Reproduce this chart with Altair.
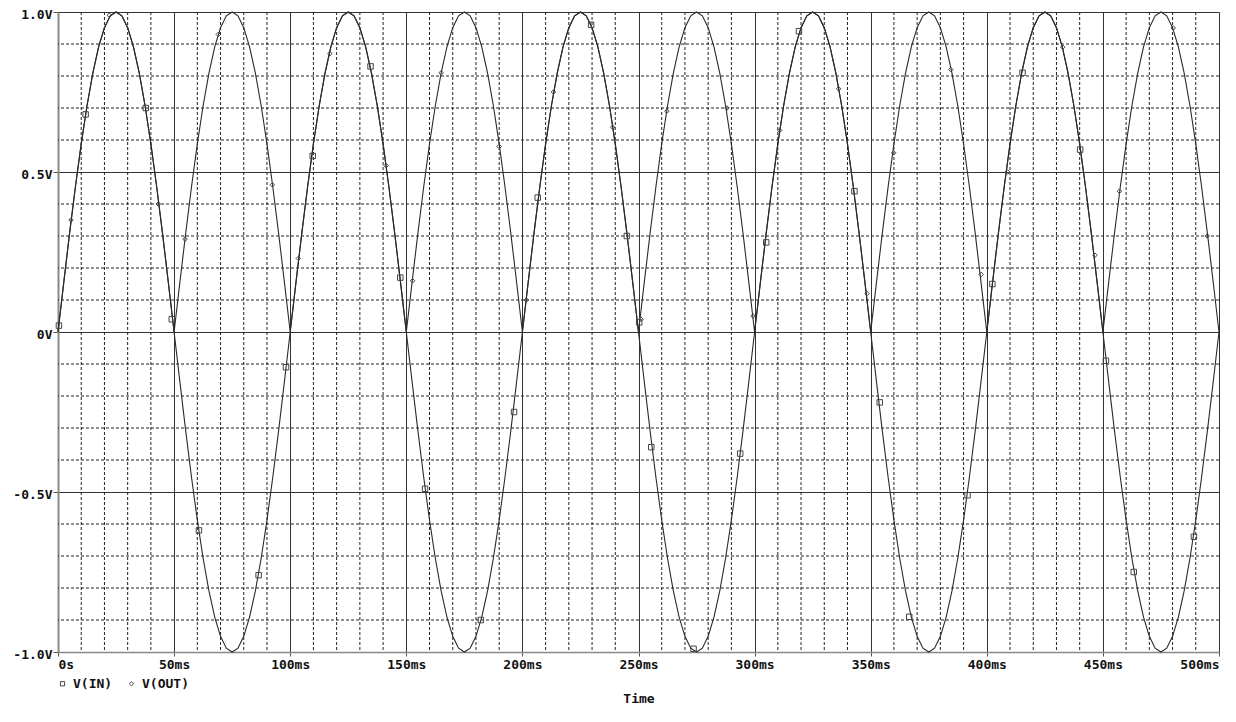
import altair as alt
import pandas as pd

# ---- data ----
t_step_ms = 2.5  # sample spacing of the traces (ms)

v_in = [
    0.000, 0.156, 0.309, 0.454, 0.588, 0.707, 0.809, 0.891, 0.951, 0.988,
    1.000, 0.988, 0.951, 0.891, 0.809, 0.707, 0.588, 0.454, 0.309, 0.156,
    0.000, -0.156, -0.309, -0.454, -0.588, -0.707, -0.809, -0.891, -0.951, -0.988,
    -1.000, -0.988, -0.951, -0.891, -0.809, -0.707, -0.588, -0.454, -0.309, -0.156,
    0.000, 0.156, 0.309, 0.454, 0.588, 0.707, 0.809, 0.891, 0.951, 0.988,
    1.000, 0.988, 0.951, 0.891, 0.809, 0.707, 0.588, 0.454, 0.309, 0.156,
    0.000, -0.156, -0.309, -0.454, -0.588, -0.707, -0.809, -0.891, -0.951, -0.988,
    -1.000, -0.988, -0.951, -0.891, -0.809, -0.707, -0.588, -0.454, -0.309, -0.156,
    0.000, 0.156, 0.309, 0.454, 0.588, 0.707, 0.809, 0.891, 0.951, 0.988,
    1.000, 0.988, 0.951, 0.891, 0.809, 0.707, 0.588, 0.454, 0.309, 0.156,
    0.000, -0.156, -0.309, -0.454, -0.588, -0.707, -0.809, -0.891, -0.951, -0.988,
    -1.000, -0.988, -0.951, -0.891, -0.809, -0.707, -0.588, -0.454, -0.309, -0.156,
    0.000, 0.156, 0.309, 0.454, 0.588, 0.707, 0.809, 0.891, 0.951, 0.988,
    1.000, 0.988, 0.951, 0.891, 0.809, 0.707, 0.588, 0.454, 0.309, 0.156,
    0.000, -0.156, -0.309, -0.454, -0.588, -0.707, -0.809, -0.891, -0.951, -0.988,
    -1.000, -0.988, -0.951, -0.891, -0.809, -0.707, -0.588, -0.454, -0.309, -0.156,
    0.000, 0.156, 0.309, 0.454, 0.588, 0.707, 0.809, 0.891, 0.951, 0.988,
    1.000, 0.988, 0.951, 0.891, 0.809, 0.707, 0.588, 0.454, 0.309, 0.156,
    0.000, -0.156, -0.309, -0.454, -0.588, -0.707, -0.809, -0.891, -0.951, -0.988,
    -1.000, -0.988, -0.951, -0.891, -0.809, -0.707, -0.588, -0.454, -0.309, -0.156,
    0.000,
]

v_out = [
    0.000, 0.156, 0.309, 0.454, 0.588, 0.707, 0.809, 0.891, 0.951, 0.988,
    1.000, 0.988, 0.951, 0.891, 0.809, 0.707, 0.588, 0.454, 0.309, 0.156,
    0.000, 0.156, 0.309, 0.454, 0.588, 0.707, 0.809, 0.891, 0.951, 0.988,
    1.000, 0.988, 0.951, 0.891, 0.809, 0.707, 0.588, 0.454, 0.309, 0.156,
    0.000, 0.156, 0.309, 0.454, 0.588, 0.707, 0.809, 0.891, 0.951, 0.988,
    1.000, 0.988, 0.951, 0.891, 0.809, 0.707, 0.588, 0.454, 0.309, 0.156,
    0.000, 0.156, 0.309, 0.454, 0.588, 0.707, 0.809, 0.891, 0.951, 0.988,
    1.000, 0.988, 0.951, 0.891, 0.809, 0.707, 0.588, 0.454, 0.309, 0.156,
    0.000, 0.156, 0.309, 0.454, 0.588, 0.707, 0.809, 0.891, 0.951, 0.988,
    1.000, 0.988, 0.951, 0.891, 0.809, 0.707, 0.588, 0.454, 0.309, 0.156,
    0.000, 0.156, 0.309, 0.454, 0.588, 0.707, 0.809, 0.891, 0.951, 0.988,
    1.000, 0.988, 0.951, 0.891, 0.809, 0.707, 0.588, 0.454, 0.309, 0.156,
    0.000, 0.156, 0.309, 0.454, 0.588, 0.707, 0.809, 0.891, 0.951, 0.988,
    1.000, 0.988, 0.951, 0.891, 0.809, 0.707, 0.588, 0.454, 0.309, 0.156,
    0.000, 0.156, 0.309, 0.454, 0.588, 0.707, 0.809, 0.891, 0.951, 0.988,
    1.000, 0.988, 0.951, 0.891, 0.809, 0.707, 0.588, 0.454, 0.309, 0.156,
    0.000, 0.156, 0.309, 0.454, 0.588, 0.707, 0.809, 0.891, 0.951, 0.988,
    1.000, 0.988, 0.951, 0.891, 0.809, 0.707, 0.588, 0.454, 0.309, 0.156,
    0.000, 0.156, 0.309, 0.454, 0.588, 0.707, 0.809, 0.891, 0.951, 0.988,
    1.000, 0.988, 0.951, 0.891, 0.809, 0.707, 0.588, 0.454, 0.309, 0.156,
    0.000,
]

# marker positions (ms, V)
in_marker_t = [0.4, 11.9, 37.8, 49.0, 60.7, 86.4, 98.2, 109.7, 134.6, 147.4,
               158.1, 182.1, 196.4, 206.6, 229.6, 245.0, 250.3, 255.5, 273.7, 293.8,
               305.0, 319.1, 343.0, 353.9, 366.6, 391.7, 402.4, 415.4, 440.2, 451.3,
               463.3, 489.2]
in_marker_v = [0.02, 0.68, 0.70, 0.04, -0.62, -0.76, -0.11, 0.55, 0.83, 0.17,
               -0.49, -0.90, -0.25, 0.42, 0.96, 0.30, 0.03, -0.36, -0.99, -0.38,
               0.28, 0.94, 0.44, -0.22, -0.89, -0.51, 0.15, 0.81, 0.57, -0.09,
               -0.75, -0.64]
out_marker_t = [5.6, 22.1, 43.2, 54.7, 69.0, 92.3, 103.5, 117.1, 141.3, 152.7,
                165.0, 190.0, 201.7, 213.4, 238.9, 251.1, 262.2, 288.1, 299.3, 310.8,
                336.2, 348.4, 359.9, 384.5, 397.6, 409.0, 432.7, 446.6, 457.1, 480.3,
                494.9]
out_marker_v = [0.35, 0.99, 0.40, 0.29, 0.93, 0.46, 0.23, 0.87, 0.52, 0.16,
                0.81, 0.58, 0.10, 0.75, 0.64, 0.04, 0.69, 0.70, 0.05, 0.63,
                0.76, 0.12, 0.56, 0.82, 0.18, 0.50, 0.89, 0.24, 0.44, 0.95,
                0.30]

series_names = ["V(IN)", "V(OUT)"]

x_major = [0, 50, 100, 150, 200, 250, 300, 350, 400, 450, 500]
x_labels = ["0s", "50ms", "100ms", "150ms", "200ms", "250ms", "300ms",
            "350ms", "400ms", "450ms", "500ms"]
x_minor = [10, 20, 30, 40, 60, 70, 80, 90, 110, 120, 130, 140, 160, 170, 180, 190,
           210, 220, 230, 240, 260, 270, 280, 290, 310, 320, 330, 340, 360, 370,
           380, 390, 410, 420, 430, 440, 460, 470, 480, 490]
y_major = [-1.0, -0.5, 0.0, 0.5, 1.0]
y_labels = ["-1.0V", "-0.5V", "0V", "0.5V", "1.0V"]
y_minor = [-0.9, -0.8, -0.7, -0.6, -0.4, -0.3, -0.2, -0.1,
           0.1, 0.2, 0.3, 0.4, 0.6, 0.7, 0.8, 0.9]

# ---- tables ----
times = [i * t_step_ms for i in range(len(v_in))]
lines_df = pd.DataFrame({
    "t": times + times,
    "v": v_in + v_out,
    "series": [series_names[0]] * len(v_in) + [series_names[1]] * len(v_out),
})
markers_df = pd.DataFrame({
    "t": in_marker_t + out_marker_t,
    "v": in_marker_v + out_marker_v,
    "series": [series_names[0]] * len(in_marker_t) + [series_names[1]] * len(out_marker_t),
})
xminor_df = pd.DataFrame({"t": x_minor})
yminor_df = pd.DataFrame({"v": y_minor})

FONT = "DejaVu Sans Mono"

def label_expr(values, labels):
    expr = "''"
    for val, lab in zip(reversed(values), reversed(labels)):
        expr = f"abs(datum.value - ({val})) < 1e-6 ? '{lab}' : ({expr})"
    return expr

xscale = alt.Scale(domain=[0, 500], nice=False, zero=False)
yscale = alt.Scale(domain=[-1, 1], nice=False, zero=False)

x_axis = alt.Axis(
    values=x_major, labelExpr=label_expr(x_major, x_labels), title="Time",
    grid=True, gridColor="#333", gridWidth=1, tickSize=4, tickColor="#555",
    domainColor="#888", domainWidth=1.5, labelFlush=True, labelPadding=2,
    labelFont=FONT, labelFontSize=13, labelFontWeight="bold", labelColor="#111",
    titleFont=FONT, titleFontSize=13, titleFontWeight="bold", titleColor="#111",
    titlePadding=21,
)
y_axis = alt.Axis(
    values=y_major, labelExpr=label_expr(y_major, y_labels), title=None,
    grid=True, gridColor="#333", gridWidth=1, tickSize=5, tickColor="#555",
    domainColor="#888", domainWidth=2, labelPadding=1, labelOffset=2,
    labelFont=FONT, labelFontSize=13, labelFontWeight="bold", labelColor="#111",
)

X = lambda: alt.X("t:Q", scale=xscale, axis=x_axis)
Y = lambda: alt.Y("v:Q", scale=yscale, axis=y_axis)

minor_v = alt.Chart(xminor_df).mark_rule(color="#222", strokeWidth=1, strokeDash=[3, 2]).encode(
    x=X()
)
minor_h = alt.Chart(yminor_df).mark_rule(color="#222", strokeWidth=1, strokeDash=[3, 2]).encode(
    y=Y()
)

lines = alt.Chart(lines_df).mark_line(color="#2a2a2a", strokeWidth=1.1).encode(
    x=X(), y=Y(), detail="series:N",
)

points = alt.Chart(markers_df).mark_point(
    filled=False, color="#444", strokeWidth=1, opacity=1
).encode(
    x=X(),
    y=Y(),
    shape=alt.Shape(
        "series:N",
        scale=alt.Scale(domain=series_names, range=["square", "diamond"]),
        legend=alt.Legend(
            title=None, orient="none", legendX=-2, legendY=665, direction="horizontal",
            padding=0, symbolSize=18, symbolStrokeColor="#444",
            symbolStrokeWidth=1, symbolOpacity=1, labelFont=FONT, labelFontSize=13,
            labelFontWeight="bold", labelColor="#111", labelOffset=4, columnPadding=12,
        ),
    ),
    size=alt.condition(alt.datum.series == series_names[0], alt.value(30), alt.value(20)),
)

chart = alt.layer(minor_v, minor_h, lines, points).properties(
    width=1161,
    height=640,
    autosize=alt.AutoSizeParams(type="none"),
    padding={"left": 50, "top": 4, "right": 9, "bottom": 58},
).configure_view(stroke="#666", strokeWidth=1).configure(background="white")

chart.save("out.html", embed_options={"renderer": "svg", "actions": False})
